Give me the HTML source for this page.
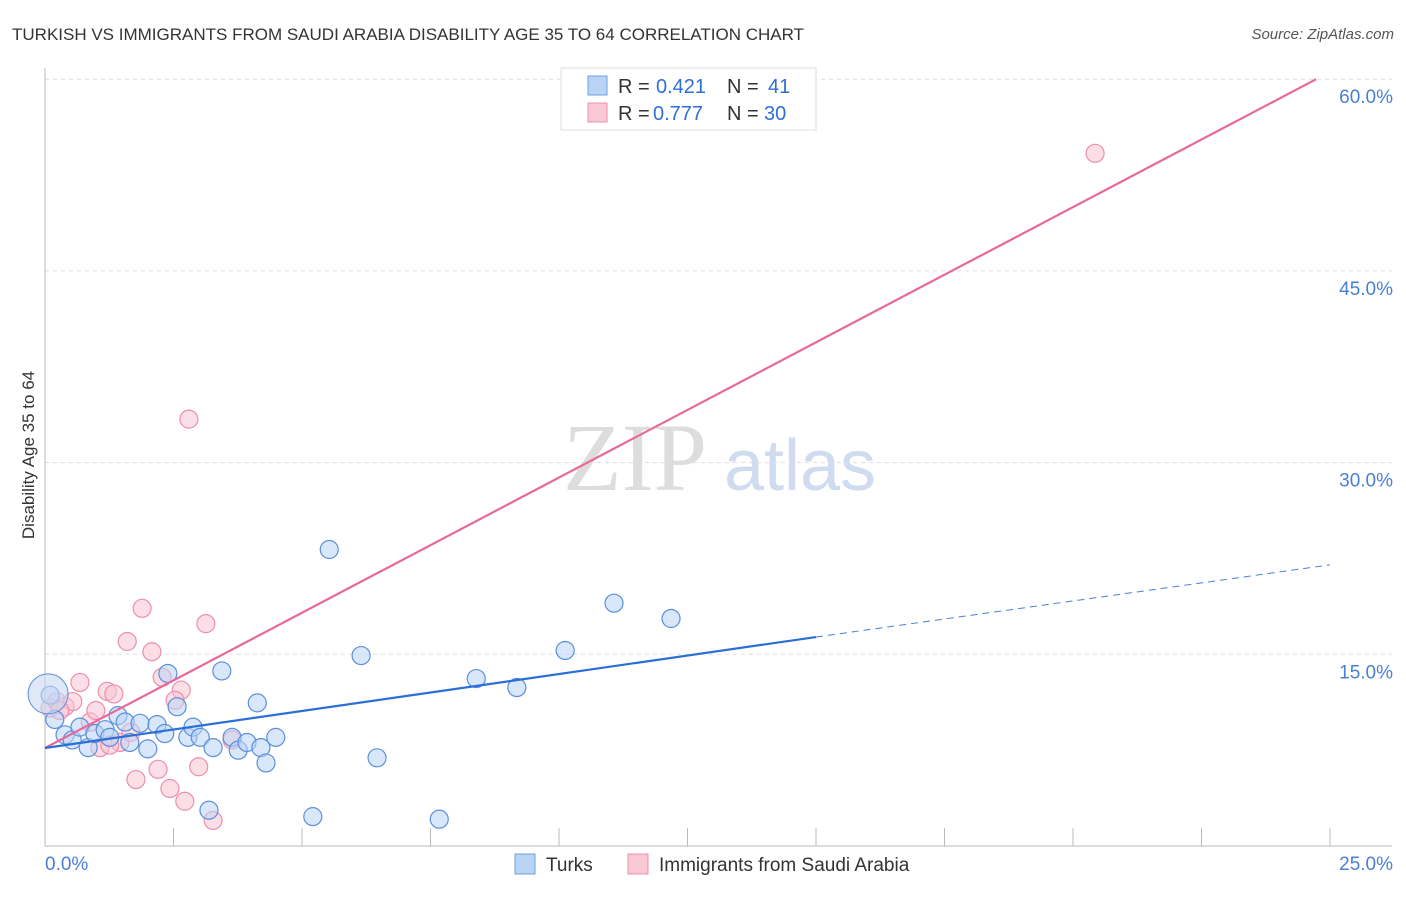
<!DOCTYPE html>
<html><head><meta charset="utf-8"><style>
body{margin:0;background:#fff;font-family:"Liberation Sans",sans-serif}
</style></head><body>
<svg id="chart" width="1406" height="892" xmlns="http://www.w3.org/2000/svg" font-family="Liberation Sans, sans-serif">
<text x="12" y="40" font-size="17" fill="#333">TURKISH VS IMMIGRANTS FROM SAUDI ARABIA DISABILITY AGE 35 TO 64 CORRELATION CHART</text>
<text x="1394" y="39" font-size="15" fill="#555" font-style="italic" text-anchor="end">Source: ZipAtlas.com</text>
<text x="34" y="455" font-size="17" fill="#333" text-anchor="middle" transform="rotate(-90 34 455)">Disability Age 35 to 64</text>
<g><text x="635" y="490" font-size="96" fill="#ddd" text-anchor="middle" font-family="Liberation Serif, serif">ZIP</text><text x="800" y="490" font-size="72" fill="#cfdcf0" text-anchor="middle">atlas</text></g>
<g id="grid"></g><g id="axes"></g><g id="marks"></g>
<g>
<rect x="561" y="68" width="255" height="62" fill="#fff" stroke="#ddd"/>
<rect x="588" y="76" width="19" height="19" fill="#b9d3f5" stroke="#6fa0e0"/>
<text x="618" y="93" font-size="20" fill="#333">R =</text><text x="656" y="93" font-size="20" fill="#2f6fd6">0.421</text>
<text x="727" y="93" font-size="20" fill="#333">N =</text><text x="768" y="93" font-size="20" fill="#2f6fd6">41</text>
<rect x="588" y="103" width="19" height="19" fill="#f9c9d6" stroke="#ec8fab"/>
<text x="618" y="120" font-size="20" fill="#333">R =</text><text x="653" y="120" font-size="20" fill="#2f6fd6">0.777</text>
<text x="727" y="120" font-size="20" fill="#333">N =</text><text x="764" y="120" font-size="20" fill="#2f6fd6">30</text>
</g>
<g>
<rect x="515" y="854" width="20" height="20" fill="#b9d3f5" stroke="#6fa0e0"/>
<text x="546" y="871" font-size="19" fill="#333">Turks</text>
<rect x="628" y="854" width="20" height="20" fill="#f9c9d6" stroke="#ec8fab"/>
<text x="659" y="871" font-size="19" fill="#333">Immigrants from Saudi Arabia</text>
</g>
</svg>
<script>
const yTicks=[15,30,45,60];
const yTickLabels=["15.0%","30.0%","45.0%","60.0%"];
const xEndLabels=["0.0%","25.0%"];
const turksX=[0.10,0.19,0.39,0.53,0.68,0.84,0.97,1.17,1.26,1.42,1.56,1.65,1.85,2.00,2.18,2.33,2.39,2.57,2.78,2.88,3.02,3.27,3.44,3.64,3.76,3.93,4.13,4.20,4.30,4.49,3.19,5.21,5.53,6.15,6.46,7.67,8.39,9.18,10.12,11.07,12.18];
const turksY=[11.8,9.9,8.7,8.3,9.3,7.7,8.8,9.1,8.5,10.2,9.7,8.1,9.6,7.6,9.5,8.8,13.5,10.9,8.5,9.3,8.5,7.7,13.7,8.5,7.5,8.1,11.2,7.7,6.5,8.5,2.8,2.3,23.2,14.9,6.9,2.1,13.1,12.4,15.3,19.0,17.8];
const saudiX=[0.10,0.23,0.39,0.54,0.68,0.88,0.99,1.07,1.21,1.34,1.46,1.60,1.67,1.77,1.89,2.08,2.20,2.28,2.43,2.65,2.72,2.80,2.99,3.13,3.27,3.64,20.43,0.29,1.26,2.53];
const saudiY=[10.8,11.3,10.9,11.3,12.8,9.7,10.6,7.7,12.1,11.9,8.1,16.0,8.9,5.2,18.6,15.2,6.0,13.2,4.5,12.2,3.5,33.4,6.2,17.4,2.0,8.3,54.2,10.6,7.9,11.4];
const turksLine=[[0,7.67],[15,16.35]];
const turksDash=[[15,16.35],[25,22.0]];
const saudiLine=[[0,7.67],[24.73,60]];
const xs=v=>45+v*51.4, ys=v=>846-v*12.78;
const NS="http://www.w3.org/2000/svg";
function mk(tag,attrs,parent){const e=document.createElementNS(NS,tag);for(const k in attrs)e.setAttribute(k,attrs[k]);document.getElementById(parent).appendChild(e);return e;}
yTicks.forEach((t,i)=>{
 const g=mk('line',{x1:45,x2:1392,y1:ys(t),y2:ys(t),stroke:'#ddd','stroke-dasharray':'4,4'},'grid');
 
 
 const l=mk('text',{x:1393,y:ys(t)+24,'font-size':19,fill:'#4a7fd4','text-anchor':'end'},'axes');
 l.textContent=yTickLabels[i];
 
 
});
const ax=mk('line',{x1:45,x2:45,y1:68,y2:846,stroke:'#bbb'},'axes');


const bx=mk('line',{x1:45,x2:1392,y1:846,y2:846,stroke:'#bbb'},'axes');


for(let i=1;i<=10;i++){const t=mk('line',{x1:xs(i*2.5),x2:xs(i*2.5),y1:828,y2:846,stroke:'#bbb'},'axes');
 
 }
[[0,'start',45],[1,'end',1393]].forEach(([i,a,x])=>{const l=mk('text',{x:x,y:870,'font-size':19,fill:'#4a7fd4','text-anchor':a},'axes');l.textContent=xEndLabels[i];
 
 });
function pts(X,Y,fill,stroke,name){X.forEach((x,i)=>{const c=mk('circle',{cx:xs(x),cy:ys(Y[i]),r:9,fill:fill,'fill-opacity':0.55,stroke:stroke,'stroke-width':1.2},'marks');
 
 });}
pts(saudiX,saudiY,'#f9c3d2','#ec8fab','saudi-point');
pts(turksX,turksY,'#b9d3f5','#5b8fdc','turks-point');
const big=mk('circle',{cx:xs(0.06),cy:ys(11.9),r:20,fill:'#c8d8f2','fill-opacity':0.6,stroke:'#5b8fdc'},'marks');


function ln(p,stroke,w,dash,name){const l=mk('line',{x1:xs(p[0][0]),y1:ys(p[0][1]),x2:xs(p[1][0]),y2:ys(p[1][1]),stroke:stroke,'stroke-width':w},'marks');if(dash)l.setAttribute('stroke-dasharray',dash);
 
 }
ln(saudiLine,'#e8689a',2.2,null,'saudi-trendline');
ln(turksLine,'#2a6fd6',2.2,null,'turks-trendline');
ln(turksDash,'#4a7fd4',1,'7,5','turks-trendline-extension');
</script>
</body></html>
